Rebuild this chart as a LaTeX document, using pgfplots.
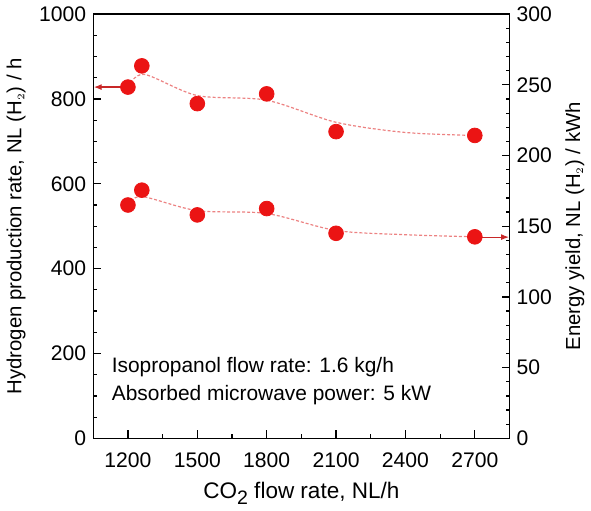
\documentclass[border=0pt]{standalone}
\usepackage{fontspec}
\setmainfont{Liberation Sans}
\usepackage{pgfplots}
\pgfplotsset{compat=1.18}
\usetikzlibrary{arrows.meta}
\definecolor{pt}{RGB}{235,20,20}
\definecolor{fitc}{RGB}{236,130,130}
\definecolor{arr}{RGB}{200,40,40}
\begin{document}
\begin{tikzpicture}
\pgfplotsset{
  common/.style={
    width=209pt, height=213pt, scale only axis,
    xmin=1050, xmax=2850,
    tick align=inside,
    major tick length=4pt, minor tick length=2pt,
    every tick/.style={black, line width=0.6pt},
    axis line style={line width=0.7pt},
    /pgf/number format/assume math mode=true,
    tick label style={font=\fontsize{10.6}{12}\selectfont},
    label style={font=\fontsize{10.2}{12}\selectfont},
  }
}
\begin{axis}[common,
  ymin=0, ymax=1000,
  xtick={1200,1500,1800,2100,2400,2700},
  minor xtick={1350,1650,1950,2250,2550},
  ytick={0,200,400,600,800,1000},
  minor ytick={50,100,150,250,300,350,450,500,550,650,700,750,850,900,950},
  xtick pos=bottom, ytick pos=left,
  xticklabel style={yshift=-3.5pt},
  /pgf/number format/set thousands separator={},
  xlabel={CO\raisebox{-0.5ex}{\fontsize{9.8}{11}\selectfont 2} flow rate, NL/h},
  xlabel style={font=\fontsize{11.3}{13}\selectfont, yshift=-0.5pt},
  ylabel={Hydrogen production rate, NL (H$_{\scriptscriptstyle 2}$) / h},
  ylabel style={yshift=0pt},
]
\addplot[fitc, dash pattern=on 1.5pt off 1pt, line width=0.6pt, smooth, tension=0.5] coordinates {
(1200,828) (1270,858) (1500,808) (1800,797) (2100,745) (2400,721) (2700,714)};
\addplot[arr, line width=0.6pt, -{Latex[length=4pt,width=3pt]}] coordinates {(1200,828) (1052,828)};
\addplot[only marks, mark=*, mark size=3.7pt, mark options={fill=pt, draw=pt}] coordinates {
(1200,828) (1260,878) (1500,789) (1800,812) (2100,723) (2700,714)};
\node[anchor=west, font=\fontsize{10.5}{12}\selectfont] at (axis cs:1100,167) {Isopropanol flow rate: 1.6 kg/h};
\node[anchor=west, font=\fontsize{10.5}{12}\selectfont] at (axis cs:1100,101) {Absorbed microwave power: 5 kW};
\end{axis}
\begin{axis}[common,
  ymin=0, ymax=300,
  axis x line=none,
  axis y line*=right,
  ytick={0,50,100,150,200,250,300},
  minor ytick={10,20,30,40,60,70,80,90,110,120,130,140,160,170,180,190,210,220,230,240,260,270,280,290},
  ylabel={Energy yield, NL (H$_{\scriptscriptstyle 2}$) / kWh},
]
\addplot[fitc, dash pattern=on 1.5pt off 1pt, line width=0.6pt, smooth, tension=0.5] coordinates {
(1200,165) (1260,171) (1500,161) (1800,159) (2100,147) (2400,144) (2700,142.5)};
\addplot[arr, line width=0.6pt, -{Latex[length=4pt,width=3pt]}] coordinates {(2700,142.3) (2848,142.3)};
\addplot[only marks, mark=*, mark size=3.7pt, mark options={fill=pt, draw=pt}] coordinates {
(1200,165) (1260,175.5) (1500,158) (1800,162.5) (2100,145) (2700,142.5)};
\end{axis}
\end{tikzpicture}
\end{document}
